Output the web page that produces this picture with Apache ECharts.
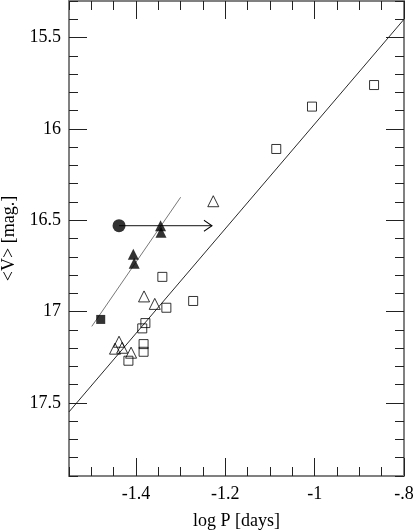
<!DOCTYPE html>
<html>
<head>
<meta charset="utf-8">
<script src="https://cdn.jsdelivr.net/npm/echarts@6/dist/echarts.min.js"></script>
<style>
  html, body { margin: 0; padding: 0; background: #fff; }
  #chart { width: 414px; height: 530px; }
</style>
</head>
<body>
<div id="chart"></div>
<script>
// tick values
let x_major = [-1.4, -1.2, -1.0, -0.8];
let y_major = [15.5, 16, 16.5, 17, 17.5];

// open squares  [log P, <V>]
let open_squares = [
    [-1.086, 16.11], [-1.006, 15.878], [-0.867, 15.76],
    [-1.341, 16.81], [-1.332, 16.979], [-1.272, 16.942],
    [-1.379, 17.063], [-1.386, 17.092], [-1.383, 17.178],
    [-1.383, 17.22], [-1.417, 17.269]
];

// open triangles
let open_triangles = [
    [-1.227, 16.396], [-1.382, 16.917], [-1.358, 16.958],
    [-1.438, 17.165], [-1.447, 17.203], [-1.431, 17.198], [-1.411, 17.225]
];

// filled triangles
let filled_triangles = [
    [-1.345, 16.53], [-1.344, 16.566], [-1.406, 16.686], [-1.404, 16.736]
];

let filled_square = [[-1.479, 17.043]];
let filled_circle = [[-1.438, 16.53]];

// lower limit arrow from the filled circle
let arrow_line = [[-1.438, 16.53], [-1.23, 16.53]];

// fitted relations
let fit_lower = [[-1.55, 17.549], [-0.8, 15.40]];
let fit_upper = [[-1.499, 17.081], [-1.300, 16.374]];


let font = 'Liberation Serif';
let frame_color = '#808080';
let tick_color = '#222';

function x_axis(pos, major, labels) {
    return {
        type: 'value', position: pos, min: -1.55, max: -0.8,
        interval: major ? undefined : 0.05,
        name: labels ? 'log P [days]' : '',
        nameLocation: 'middle', nameGap: 36,
        nameTextStyle: { fontFamily: font, fontSize: 18, color: '#000' },
        axisLine: { show: major, lineStyle: { color: frame_color, width: 2 } },
        axisTick: major
            ? { inside: true, length: 18, customValues: x_major, lineStyle: { color: tick_color } }
            : { inside: true, length: 9, lineStyle: { color: tick_color } },
        axisLabel: labels
            ? {
                customValues: x_major, margin: 9,
                fontFamily: font, fontSize: 18, color: '#000',
                formatter: function (v) {
                    if (Math.abs(v + 0.8) < 1e-6) return '-.8';
                    if (Math.abs(v + 1) < 1e-6) return '-1';
                    return v.toFixed(1);
                }
            }
            : { show: false },
        splitLine: { show: false }
    };
}

function y_axis(pos, major, labels) {
    return {
        type: 'value', position: pos, min: 15.3, max: 17.9, inverse: true,
        interval: major ? undefined : 0.1,
        name: labels ? '<V> [mag.]' : '',
        nameLocation: 'middle', nameGap: 46,
        nameTextStyle: { fontFamily: font, fontSize: 18, color: '#000' },
        axisLine: { show: major, lineStyle: { color: frame_color, width: 2 } },
        axisTick: major
            ? { inside: true, length: 18, customValues: y_major, lineStyle: { color: tick_color } }
            : { inside: true, length: 9, lineStyle: { color: tick_color } },
        axisLabel: labels
            ? {
                customValues: y_major, margin: 8,
                fontFamily: font, fontSize: 18, color: '#000',
                formatter: function (v) { return String(v); }
            }
            : { show: false },
        splitLine: { show: false }
    };
}

function scatter(data, symbol, size, filled) {
    return {
        type: 'scatter', data: data, symbol: symbol, symbolSize: size,
        xAxisIndex: 0, yAxisIndex: 0, z: 5,
        itemStyle: filled
            ? { color: '#000', borderColor: '#000', borderWidth: 0 }
            : { color: 'none', borderColor: '#000', borderWidth: 1 }
    };
}

function line(data, color, width) {
    return {
        type: 'line', data: data, showSymbol: false, symbol: 'none',
        xAxisIndex: 0, yAxisIndex: 0, z: 2,
        lineStyle: { color: color, width: width }
    };
}

var chart = echarts.init(document.getElementById('chart'), null, { renderer: 'canvas' });

chart.setOption({
    backgroundColor: '#fff',
    animation: false,
    grid: { left: 69, right: 10, top: 1, bottom: 54, outerBoundsMode: 'none', containLabel: false },
    xAxis: [
        x_axis('bottom', true, true),
        x_axis('bottom', false, false),
        x_axis('top', true, false),
        x_axis('top', false, false)
    ],
    yAxis: [
        y_axis('left', true, true),
        y_axis('left', false, false),
        y_axis('right', true, false),
        y_axis('right', false, false)
    ],
    series: [
        line(fit_lower, '#111', 0.9),
        line(fit_upper, '#555', 0.8),
        {
            type: 'line', xAxisIndex: 0, yAxisIndex: 0, z: 3,
            data: [
                { value: arrow_line[0], symbol: 'none' },
                {
                    value: arrow_line[1],
                    symbol: 'path://M0,0 L10,5 L0,10',
                    symbolSize: [8, 11],
                    symbolOffset: [-4, 0],
                    itemStyle: { color: 'none', borderColor: '#000', borderWidth: 1 }
                }
            ],
            showAllSymbol: true,
            lineStyle: { color: '#111', width: 1 }
        },
        scatter(open_squares, 'rect', 9, false),
        scatter(open_triangles, 'triangle', 11, false),
        scatter(filled_triangles, 'triangle', 11, true),
        scatter(filled_square, 'rect', 9, true),
        scatter(filled_circle, 'circle', 13, true)
    ]
});
</script>
</body>
</html>
